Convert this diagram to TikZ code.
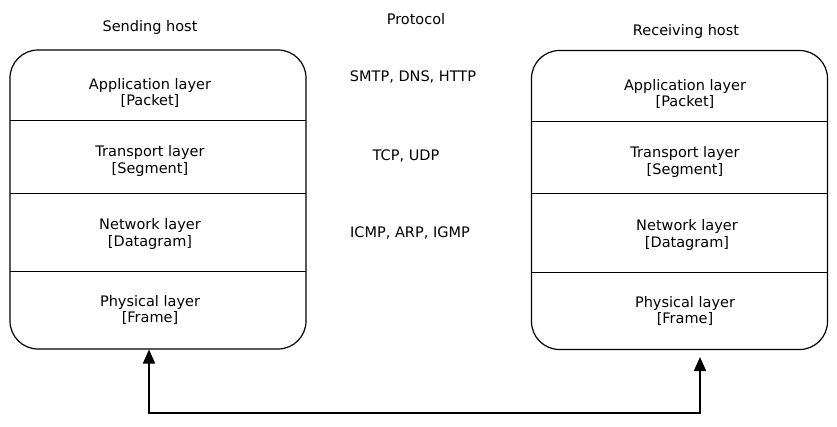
\documentclass[tikz,border=0pt]{standalone}
\usepackage{fontspec}
\setmainfont{DejaVu Sans}
\usetikzlibrary{arrows.meta}
\begin{document}
\begin{tikzpicture}[x=1pt, y=-1pt,
    host/.style={draw, line width=1.2pt, rounded corners=28pt, minimum width=296pt, minimum height=299pt},
    divider/.style={line width=1pt},
    layer/.style={align=center, font=\fontsize{14.5}{16.5}\selectfont},
    title/.style={font=\fontsize{14.5}{16.5}\selectfont},
    link/.style={{Triangle[length=14pt, width=12pt]}-{Triangle[length=14pt, width=12pt]}, line width=1.6pt}]

    \useasboundingbox (0,0) rectangle (837,426);

    % Column titles
    \node[title] (send_title) at (150,27) {Sending host};
    \node[title] (proto_title) at (416,19) {Protocol};
    \node[title] (recv_title) at (686,31) {Receiving host};

    % Sending host
    % Draw outer box
    \node[host] (send) at (158,199.5) {};
    % Draw dividers between layers
    \draw[divider] (10,120) -- (306,120);
    \draw[divider] (10,193) -- (306,193);
    \draw[divider] (10,271) -- (306,271);
    % Draw layer names
    \node[layer] (send_app) at (150,93) {Application layer\\{[Packet]}};
    \node[layer] (send_trans) at (150,161) {Transport layer\\{[Segment]}};
    \node[layer] (send_net) at (150,234) {Network layer\\{[Datagram]}};
    \node[layer] (send_phys) at (150,310) {Physical layer\\{[Frame]}};

    % Protocols between the hosts
    \node[title] (proto_app) at (413,77) {SMTP, DNS, HTTP};
    \node[title] (proto_trans) at (406,156) {TCP, UDP};
    \node[title] (proto_net) at (410,233) {ICMP, ARP, IGMP};

    % Receiving host
    % Draw outer box
    \node[host] (recv) at (679.5,200) {};
    % Draw dividers between layers
    \draw[divider] (532,121) -- (827,121);
    \draw[divider] (532,193) -- (827,193);
    \draw[divider] (532,272) -- (827,272);
    % Draw layer names
    \node[layer] (recv_app) at (685,94) {Application layer\\{[Packet]}};
    \node[layer] (recv_trans) at (685,162) {Transport layer\\{[Segment]}};
    \node[layer] (recv_net) at (687,235) {Network layer\\{[Datagram]}};
    \node[layer] (recv_phys) at (685,311) {Physical layer\\{[Frame]}};

    % Draw link between the physical layers
    \coordinate (send_port) at (149,349.5);
    \coordinate (recv_port) at (700,357);
    \coordinate (bus) at (0,413);
    \draw[link] (send_port) |- (bus -| recv_port) -- (recv_port);

\end{tikzpicture}
\end{document}
